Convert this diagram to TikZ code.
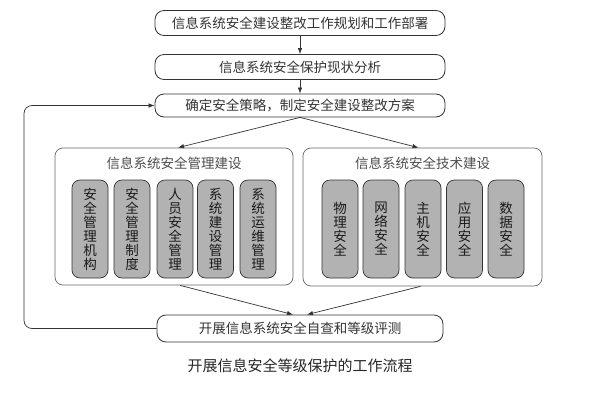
\documentclass[tikz,border=0pt]{standalone}
\usepackage{fontspec}
\setmainfont{Noto Sans CJK SC}
\usetikzlibrary{arrows.meta}
\begin{document}
\begin{tikzpicture}[x=1pt,y=-1pt,
  mainbox/.style={draw=black!80, line width=0.8pt, rounded corners=9pt, minimum width=290pt, minimum height=25pt, inner sep=0pt, text=black!80, font=\fontsize{13.5}{14}\selectfont},
  groupbox/.style={draw=black!60, line width=0.7pt, rounded corners=8pt, inner sep=0pt},
  innerbox/.style={draw=black!80, line width=0.7pt, fill=gray!60, rounded corners=8pt, minimum width=36pt, minimum height=98pt, inner sep=0pt, align=center, text=black!90, font=\fontsize{13.5}{14}\selectfont},
  grouptitle/.style={text=black!70, font=\fontsize{13.5}{14}\selectfont, inner sep=0pt},
  arr/.style={-{Latex[length=6pt,width=4.5pt]}, line width=0.7pt, draw=black!80},
  link/.style={line width=0.7pt, draw=black!70}]
\useasboundingbox (0,0) rectangle (600,400);
% main boxes
\node[mainbox] (b1) at (300,23) {信息系统安全建设整改工作规划和工作部署};
\node[mainbox] (b2) at (300,67) {信息系统安全保护现状分析};
\node[mainbox, minimum height=23pt] (b3) at (300,105.5) {确定安全策略，制定安全建设整改方案};
\node[mainbox, minimum width=286pt, minimum height=27pt] (b5) at (300,328.5) {开展信息系统安全自查和等级评测};
% groups
\node[groupbox, minimum width=238pt, minimum height=137pt] (gL) at (174,216.5) {};
\node[groupbox, minimum width=239pt, minimum height=138pt] (gR) at (422.5,217) {};
\node[grouptitle] (tL) at (174,163) {信息系统安全管理建设};
\node[grouptitle] (tR) at (422.5,163) {信息系统安全技术建设};
% inner boxes left
\node[innerbox] (m1) at (90,229) {安\\全\\管\\理\\机\\构};
\node[innerbox] (m2) at (132,229) {安\\全\\管\\理\\制\\度};
\node[innerbox] (m3) at (175,229) {人\\员\\安\\全\\管\\理};
\node[innerbox] (m4) at (215.5,229) {系\\统\\建\\设\\管\\理};
\node[innerbox] (m5) at (258,229) {系\\统\\运\\维\\管\\理};
% inner boxes right
\node[innerbox] (t1) at (340,229) {物\\理\\安\\全};
\node[innerbox] (t2) at (381,229) {网\\络\\安\\全};
\node[innerbox] (t3) at (423,229) {主\\机\\安\\全};
\node[innerbox] (t4) at (464.5,229) {应\\用\\安\\全};
\node[innerbox] (t5) at (506,229) {数\\据\\安\\全};
% caption
\node[text=black!85, font=\fontsize{15}{16}\selectfont] (cap) at (300,366) {开展信息安全等级保护的工作流程};
% connectors
\coordinate (fbx) at (24,0);
\draw[arr] (b1.south) -- (b2.north);
\draw[arr] (b2.south) -- (b3.north);
\draw[arr] (b3.south) -- ([xshift=4pt]gL.north);
\draw[arr] (b3.south) -- ([xshift=-4pt]gR.north);
\draw[arr] ([xshift=6pt]gL.south) -- ([xshift=-7pt]b5.north);
\draw[arr] ([xshift=-2pt]gR.south) -- ([xshift=7pt]b5.north);
\draw[arr, rounded corners=8pt] (b5.west) -| (fbx |- b3.west) -- (b3.west);
\end{tikzpicture}
\end{document}
